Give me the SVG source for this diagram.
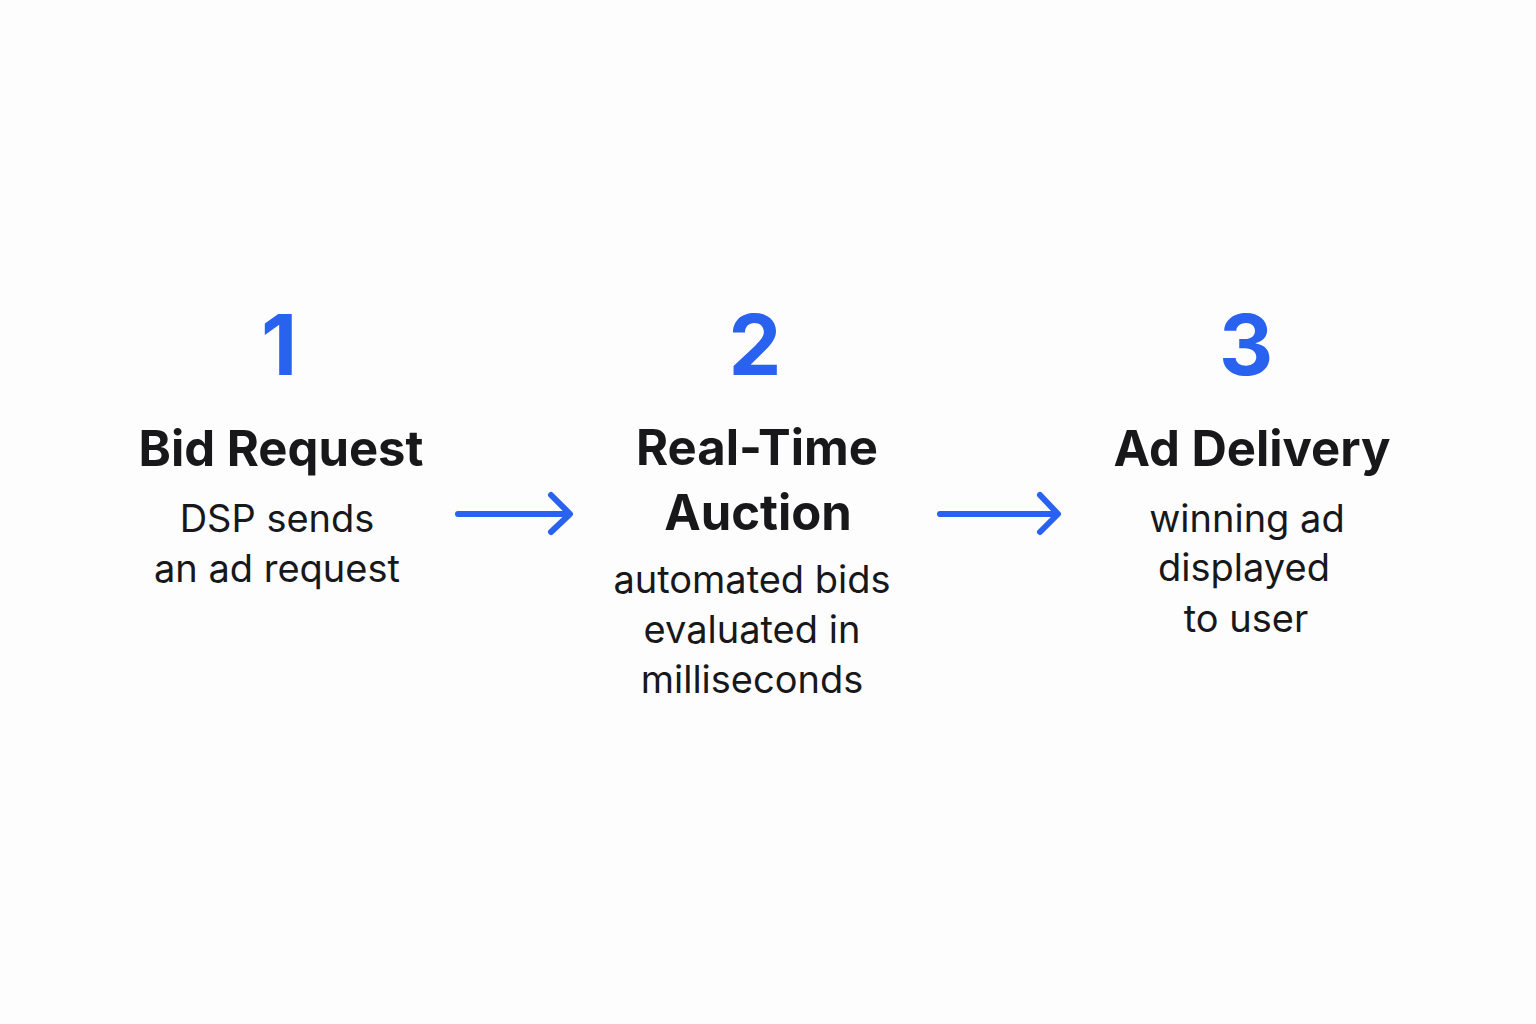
<svg xmlns="http://www.w3.org/2000/svg" width="1536" height="1024" viewBox="0 0 1536 1024">
<style>
.num{font-family:Inter,"Noto Sans",sans-serif;font-weight:700;font-size:84px;fill:#2862EE;text-anchor:middle}
.title{font-family:Inter,"Noto Sans",sans-serif;font-weight:700;font-size:49px;fill:#18181b;text-anchor:middle}
.body{font-family:Inter,"Noto Sans",sans-serif;font-weight:400;font-size:38px;fill:#18181b;text-anchor:middle}
.arrow{fill:none;stroke:#2862EE;stroke-width:6;stroke-linecap:round;stroke-linejoin:round}
</style>
<rect width="1536" height="1024" fill="#fdfdfd"/>
<g id="step1">
<text class="num" x="279" y="375">1</text>
<text class="title" x="281" y="466">Bid Request</text>
<text class="body" x="277" y="532">DSP sends</text>
<text class="body" x="277" y="582">an ad request</text>
</g>
<g id="step2">
<text class="num" x="755" y="375">2</text>
<text class="title" x="757" y="465">Real-Time</text>
<text class="title" x="758" y="530">Auction</text>
<text class="body" x="752" y="593">automated bids</text>
<text class="body" x="752" y="643">evaluated in</text>
<text class="body" x="752" y="693">milliseconds</text>
</g>
<g id="step3">
<text class="num" x="1246" y="375">3</text>
<text class="title" x="1252" y="466">Ad Delivery</text>
<text class="body" x="1247" y="532">winning ad</text>
<text class="body" x="1244" y="581">displayed</text>
<text class="body" x="1246" y="632">to user</text>
</g>
<g id="connectors">
<path class="arrow" d="M458 514 H569 M551 495 L570 514 L551 532"/>
<path class="arrow" d="M940 514 H1057 M1040 495 L1058 514 L1040 532"/>
</g>
</svg>
